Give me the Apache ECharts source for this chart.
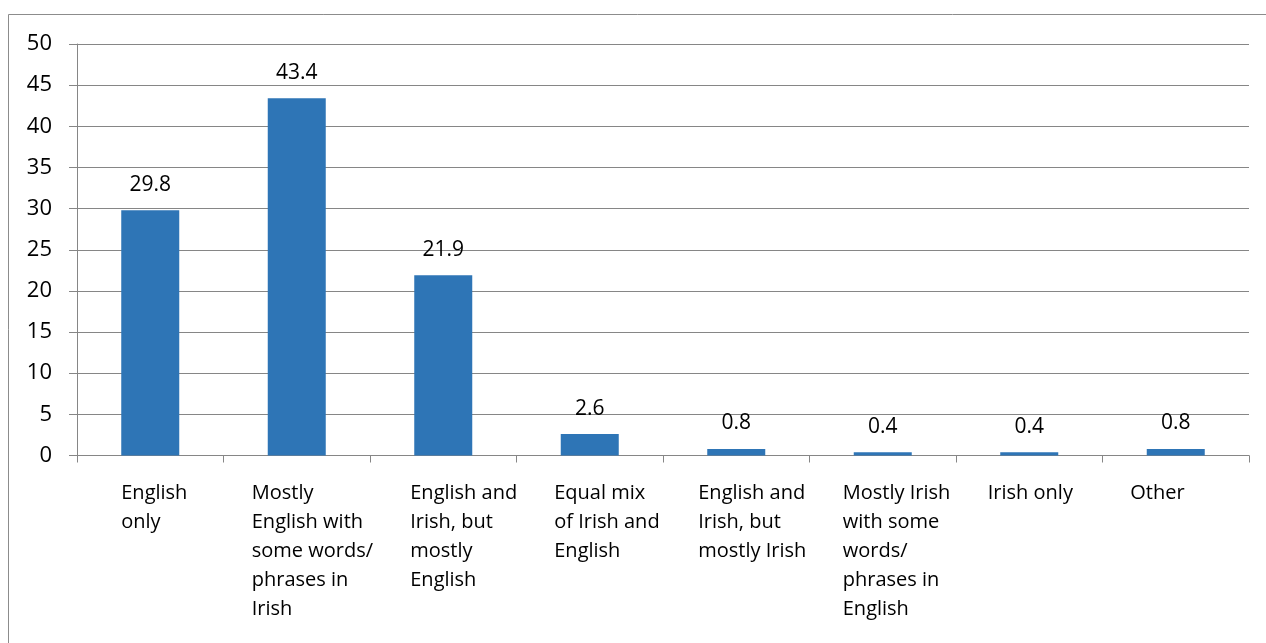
<!DOCTYPE html>
<html>
<head>
<meta charset="utf-8">
<script src="https://cdn.jsdelivr.net/npm/echarts@6/dist/echarts.min.js"></script>
<style>
html,body{margin:0;padding:0;background:#fff;}
#chart{width:1266px;height:643px;}
</style>
</head>
<body>
<div id="chart"></div>
<script>
var categories = [
  "English\nonly",
  "Mostly\nEnglish with\nsome words/\nphrases in\nIrish",
  "English and\nIrish, but\nmostly\nEnglish",
  "Equal mix\nof Irish and\nEnglish",
  "English and\nIrish, but\nmostly Irish",
  "Mostly Irish\nwith some\nwords/\nphrases in\nEnglish",
  "Irish only",
  "Other"
];
var values = [29.8, 43.4, 21.9, 2.6, 0.8, 0.4, 0.4, 0.8];
var yTicks = { min: 0, max: 50, interval: 5 };

// layout only: horizontal shift of each wrapped category label (px, relative to category centre)
var labelShift = [-29, -45, -33, -35.5, -38, -40, -41.5, -45.5];

var FONT = 'Open Sans';
var xData = categories.map(function (c, i) {
  return {
    value: c,
    textStyle: {
      align: 'left',
      verticalAlign: 'top',
      padding: [0, 0, 0, labelShift[i]]
    }
  };
});

var chart = echarts.init(document.getElementById('chart'), null, {renderer: 'canvas'});
chart.setOption({
  animation: false,
  backgroundColor: '#ffffff',
  textStyle: { fontFamily: FONT },
  graphic: [{
    type: 'rect',
    shape: { x: 8.5, y: 14.5, width: 1400, height: 800 },
    style: { fill: 'none', stroke: '#8c8c8c', lineWidth: 1 },
    silent: true
  }],
  grid: { left: 77, right: 17, top: 44, bottom: 187.5, containLabel: false },
  xAxis: {
    type: 'category',
    data: xData,
    boundaryGap: true,
    axisLine: { show: true, lineStyle: { color: '#868686', width: 1 } },
    axisTick: { show: true, length: 7, lineStyle: { color: '#868686' } },
    axisLabel: {
      interval: 0,
      align: 'left',
      verticalAlign: 'top',
      margin: 23,
      color: '#000000',
      fontFamily: FONT,
      fontSize: 20,
      lineHeight: 29
    },
    splitLine: { show: false }
  },
  yAxis: {
    type: 'value',
    min: yTicks.min,
    max: yTicks.max,
    interval: yTicks.interval,
    axisLine: { show: true, lineStyle: { color: '#868686', width: 1 } },
    axisTick: { show: true, length: 8, lineStyle: { color: '#868686' } },
    axisLabel: { color: '#000000', fontFamily: FONT, fontSize: 22, margin: 25 },
    splitLine: { show: true, lineStyle: { color: '#868686', width: 1 } }
  },
  series: [{
    type: 'bar',
    data: values,
    barWidth: 58,
    itemStyle: { color: '#2E75B6' },
    label: {
      show: true,
      position: 'top',
      distance: 15,
      color: '#000000',
      fontFamily: FONT,
      fontSize: 21,
      formatter: function (p) { return p.value.toFixed(1); }
    }
  }]
});
</script>
</body>
</html>
